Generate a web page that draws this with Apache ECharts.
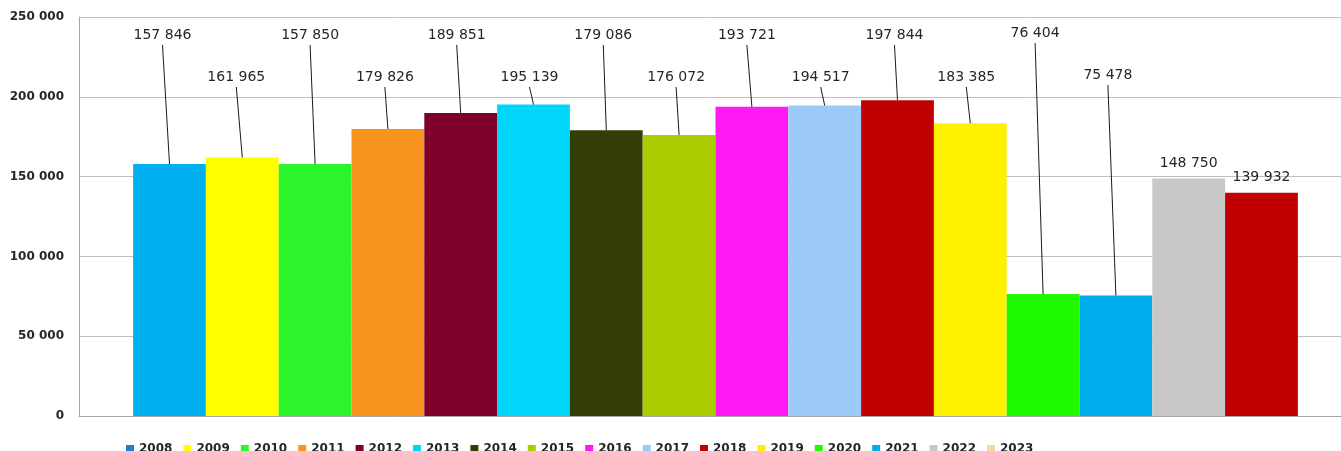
<!DOCTYPE html>
<html>
<head>
<meta charset="utf-8">
<script src="https://cdn.jsdelivr.net/npm/echarts@6/dist/echarts.min.js"></script>
<style>
  html, body { margin: 0; padding: 0; background: #ffffff; }
  #chart { width: 1341px; height: 451px; }
</style>
</head>
<body>
<div id="chart"></div>
<script>
// Yearly totals, one bar per year
const years = ['2008', '2009', '2010', '2011', '2012', '2013', '2014', '2015',
               '2016', '2017', '2018', '2019', '2020', '2021', '2022', '2023'];
const totals = [157846, 161965, 157850, 179826, 189851, 195139, 179086, 176072,
                193721, 194517, 197844, 183385, 76404, 75478, 148750, 139932];
const yTicks = [0, 50000, 100000, 150000, 200000, 250000];

// Legend swatch colour per year, and the fill actually used on each bar
const legendColors = ['#1F7FCF', '#FFFF00', '#2CF52C', '#F7931E', '#7F0029', '#00D5FA',
                      '#333D07', '#AACC00', '#FF1AF4', '#9CCBFA', '#C00000', '#FFF000',
                      '#1FFA00', '#00ADEC', '#C8C8C8', '#F9D79E'];
const barColors = ['#00B0F0', '#FFFF00', '#2CF52C', '#F7931E', '#7F0029', '#00D5FA',
                   '#333D07', '#AACC00', '#FF1AF4', '#9CCBFA', '#C00000', '#FFF000',
                   '#1FFA00', '#00ADEC', '#C8C8C8', '#C00000'];

// Value labels: two staggered rows joined to their bars by leader lines;
// null means the label simply sits on top of its bar.
const LABEL_ROW_Y = [35, 77, 35, 77, 35, 77, 35, 77, 35, 77, 35, 77, 33, 75, null, null];
const LABEL_SHIFT = [-7, -6, -5, -3, -4, -4, -3, -3, -5, -4, -3, -4, -8, -8, 0, 0];
const CATEGORY_GAP = 0.085;

const fmt = v => String(v).replace(/\B(?=(\d{3})+(?!\d))/g, ' ');

const barSeries = years.map((y, i) => ({
  name: y,
  type: 'bar',
  barGap: '0%',
  barCategoryGap: (CATEGORY_GAP * 100) + '%',
  itemStyle: { color: legendColors[i] },
  data: [{ value: totals[i], itemStyle: { color: barColors[i] } }],
  label: {
    show: true,
    position: 'top',
    distance: 8,
    formatter: p => fmt(p.value),
    fontFamily: 'DejaVu Sans',
    fontSize: 14,
    color: '#262626'
  },
  labelLayout: function (params) {
    const ly = LABEL_ROW_Y[params.seriesIndex];
    if (ly == null) return {};
    const r = params.rect;
    return {
      x: r.x + r.width / 2 + LABEL_SHIFT[params.seriesIndex],
      y: ly,
      align: 'center',
      verticalAlign: 'middle'
    };
  }
}));

// Leader lines from each raised label down to the top centre of its bar
const leaderSeries = {
  type: 'custom',
  z: 5,
  silent: true,
  data: totals.map(v => [0, v]),
  renderItem: function (params, api) {
    const i = params.dataIndex;
    const ly = LABEL_ROW_Y[i];
    if (ly == null) return null;
    const top = api.coord([0, api.value(1)]);
    const band = api.size([1, 0])[0];
    const bw = band * (1 - CATEGORY_GAP) / years.length;
    const cx = top[0] + (i - (years.length - 1) / 2) * bw;
    const lx = cx + LABEL_SHIFT[i];
    return {
      type: 'line',
      shape: { x1: lx, y1: ly + 10, x2: cx, y2: top[1] },
      style: { stroke: '#1a1a1a', lineWidth: 1 }
    };
  }
};

const chart = echarts.init(document.getElementById('chart'), null, { renderer: 'canvas' });
chart.setOption({
  animation: false,
  backgroundColor: '#ffffff',
  grid: { left: 79, top: 17, width: 1273, bottom: 35, containLabel: false, outerBoundsMode: 'none' },
  legend: {
    data: years,
    left: 121,
    top: 438,
    icon: 'rect',
    itemWidth: 8,
    itemHeight: 8,
    itemGap: 11,
    textStyle: { fontFamily: 'DejaVu Sans', fontWeight: 'bold', fontSize: 12, color: '#262626' }
  },
  xAxis: {
    type: 'category',
    data: [''],
    axisLine: { lineStyle: { color: '#A6A6A6' } },
    axisTick: { show: false },
    axisLabel: { show: false }
  },
  yAxis: {
    type: 'value',
    min: yTicks[0],
    max: yTicks[yTicks.length - 1],
    interval: yTicks[1] - yTicks[0],
    axisLine: { show: true, lineStyle: { color: '#A6A6A6' } },
    axisTick: { show: false },
    splitLine: { lineStyle: { color: '#BFBFBF' } },
    axisLabel: {
      margin: 15,
      formatter: v => fmt(v),
      fontFamily: 'DejaVu Sans',
      fontWeight: 'bold',
      fontSize: 12,
      color: '#262626'
    }
  },
  series: barSeries.concat([leaderSeries])
});
</script>
</body>
</html>
